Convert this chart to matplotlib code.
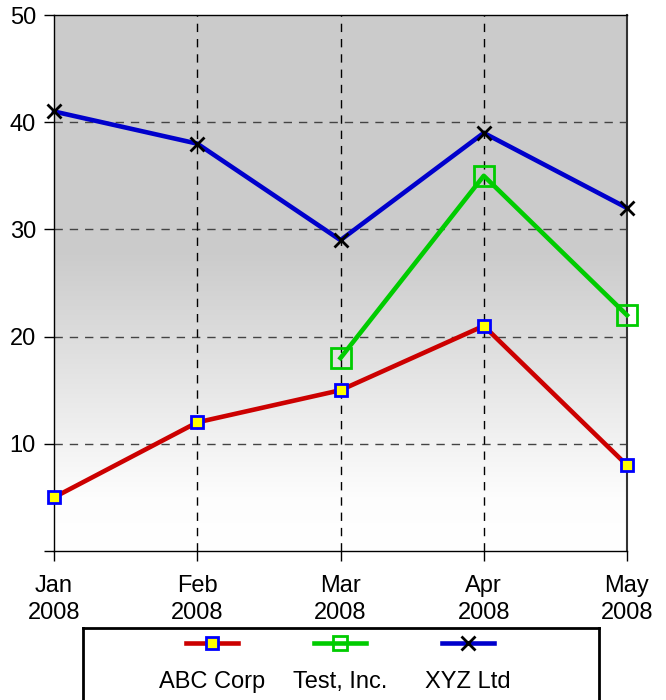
import numpy as np
import matplotlib
matplotlib.use('Agg')
import matplotlib.pyplot as plt
from matplotlib.colors import LinearSegmentedColormap

plt.rcParams['font.family'] = ['Liberation Sans', 'DejaVu Sans']

months = ['Jan\n2008', 'Feb\n2008', 'Mar\n2008', 'Apr\n2008', 'May\n2008']
abc_corp = [5, 12, 15, 21, 8]
test_inc = [np.nan, np.nan, 18, 35, 22]
xyz_ltd = [41, 38, 29, 39, 32]
yticks = [0, 10, 20, 30, 40, 50]
ylabels = ['', '10', '20', '30', '40', '50']

fig = plt.figure(figsize=(6.66, 7.0), dpi=100)
ax = fig.add_axes([54/666, 149/700, 573/666, 536/700])

# gradient background: grey on top fading to white at the bottom
cmap = LinearSegmentedColormap.from_list(
    'bg', [(0.0, '#ffffff'), (0.1, '#fdfdfd'), (0.55, '#cccccc'), (1.0, '#cbcbcb')])
grad = np.linspace(0, 1, 256).reshape(-1, 1)
ax.imshow(grad, extent=[0, 4, 0, 50], origin='lower', aspect='auto',
          cmap=cmap, vmin=0, vmax=1, zorder=0)

x = np.arange(len(months))
ax.plot(x, abc_corp, color='#cc0000', lw=3.3, marker='s', ms=9,
        mfc='#ffff00', mec='#0000ff', mew=2, clip_on=False, zorder=5)
ax.plot(x, test_inc, color='#00cc00', lw=3.3, marker='s', ms=14,
        mfc='none', mec='#00cc00', mew=2, clip_on=False, zorder=5)
ax.plot(x, xyz_ltd, color='#0000cc', lw=3.3, marker='x', ms=10,
        mec='black', mew=2, clip_on=False, zorder=6)

ax.set_xlim(0, 4)
ax.set_ylim(0, 50)
ax.set_xticks(x)
ax.set_xticklabels(months, fontsize=17, linespacing=1.3)
ax.set_yticks(yticks)
ax.set_yticklabels(ylabels, fontsize=17)
ax.tick_params(axis='x', length=7, width=1, pad=10)
ax.tick_params(axis='y', length=7, width=1, pad=6)

for v in [10, 20, 30, 40]:
    ax.axhline(v, color='#444444', lw=1, ls=(0, (6, 5)), zorder=1)
for v in [1, 2, 3]:
    ax.axvline(v, color='black', lw=1, ls=(0, (6, 5)), zorder=1)

for s in ['left', 'top', 'bottom']:
    ax.spines[s].set_color('black')
    ax.spines[s].set_linewidth(1)
ax.spines['right'].set_color('#333333')
ax.spines['right'].set_linewidth(1.5)

# legend drawn as a box below the chart, markers above labels
lax = fig.add_axes([83/666, -35/700, 516/666, 107/700])
lax.set_xlim(83, 599)
lax.set_ylim(735, 628)
lax.set_xticks([])
lax.set_yticks([])
lax.patch.set_alpha(0)
for s in lax.spines.values():
    s.set_linewidth(2)
    s.set_color('black')

names = ['ABC Corp', 'Test, Inc.', 'XYZ Ltd']
styles = [
    dict(color='#cc0000', marker='s', ms=9, mfc='#ffff00', mec='#0000ff', mew=2),
    dict(color='#00cc00', marker='s', ms=10, mfc='none', mec='#00cc00', mew=2),
    dict(color='#0000cc', marker='x', ms=10, mec='black', mew=2),
]
centers = [212, 340, 468]
for cx, name, st in zip(centers, names, styles):
    lax.plot([cx - 26, cx, cx + 26], [643, 643, 643], lw=3.3, markevery=[1], **st)
    lax.text(cx, 688, name, ha='center', va='baseline', fontsize=17)

fig.savefig('out.png', dpi=100)
